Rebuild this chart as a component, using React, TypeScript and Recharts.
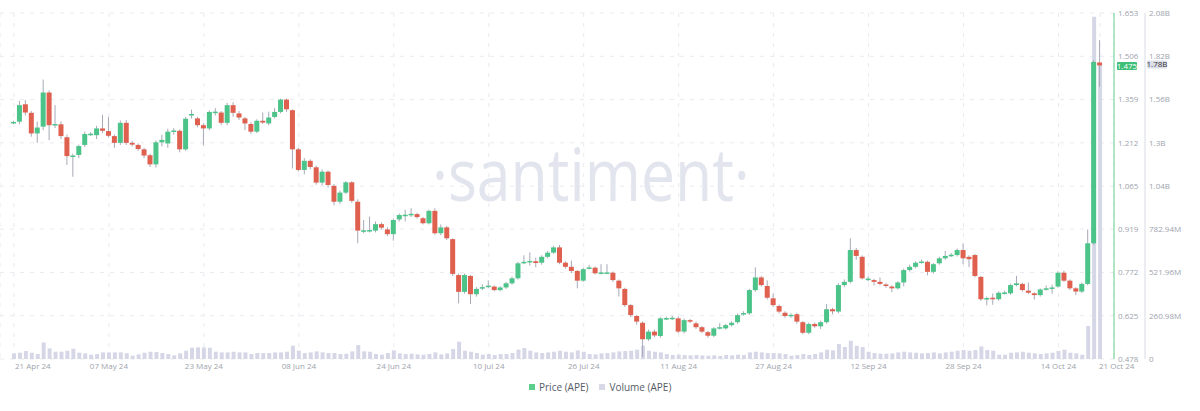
import React from "react";
import {
  ComposedChart,
  Bar,
  XAxis,
  YAxis,
  CartesianGrid,
  ReferenceLine,
} from "recharts";

// APE daily candles, 21 Apr 24 .. 21 Oct 24
const START = { year: 2024, month: 3, day: 21 };

const OPEN = [
  1.280, 1.284, 1.343, 1.314, 1.244, 1.267, 1.383, 1.274, 1.275, 1.231,
  1.167, 1.171, 1.205, 1.240, 1.238, 1.261, 1.252, 1.235, 1.212, 1.280,
  1.212, 1.205, 1.190, 1.170, 1.139, 1.214, 1.210, 1.251, 1.253, 1.190,
  1.305, 1.295, 1.272, 1.261, 1.316, 1.315, 1.280, 1.340, 1.312, 1.295,
  1.276, 1.250, 1.287, 1.278, 1.300, 1.317, 1.359, 1.323, 1.190, 1.120,
  1.151, 1.129, 1.077, 1.114, 1.066, 1.012, 1.043, 1.078, 1.012, 0.912,
  0.913, 0.914, 0.936, 0.918, 0.902, 0.952, 0.966, 0.969, 0.970, 0.956,
  0.939, 0.981, 0.905, 0.925, 0.885, 0.763, 0.706, 0.760, 0.698, 0.720,
  0.725, 0.724, 0.712, 0.721, 0.735, 0.752, 0.806, 0.809, 0.810, 0.805,
  0.825, 0.839, 0.857, 0.805, 0.791, 0.777, 0.744, 0.787, 0.788, 0.770,
  0.771, 0.771, 0.744, 0.716, 0.661, 0.624, 0.601, 0.545, 0.571, 0.556,
  0.615, 0.616, 0.616, 0.571, 0.610, 0.599, 0.586, 0.569, 0.557, 0.584,
  0.582, 0.593, 0.603, 0.632, 0.633, 0.712, 0.755, 0.726, 0.684, 0.658,
  0.635, 0.624, 0.630, 0.603, 0.567, 0.597, 0.589, 0.603, 0.647, 0.639,
  0.729, 0.740, 0.848, 0.825, 0.749, 0.746, 0.740, 0.731, 0.724, 0.718,
  0.738, 0.780, 0.791, 0.807, 0.808, 0.774, 0.803, 0.820, 0.830, 0.831,
  0.848, 0.825, 0.831, 0.757, 0.683, 0.686, 0.681, 0.702, 0.701, 0.729,
  0.733, 0.710, 0.701, 0.695, 0.716, 0.719, 0.724, 0.771, 0.744, 0.718,
  0.707, 0.733, 0.871, 1.485,
];

const CLOSE = [
  1.283, 1.340, 1.315, 1.244, 1.264, 1.383, 1.272, 1.276, 1.235, 1.167,
  1.169, 1.201, 1.242, 1.243, 1.261, 1.253, 1.236, 1.212, 1.280, 1.212,
  1.206, 1.191, 1.169, 1.139, 1.214, 1.222, 1.250, 1.254, 1.190, 1.294,
  1.310, 1.272, 1.261, 1.317, 1.318, 1.280, 1.340, 1.314, 1.298, 1.278,
  1.250, 1.287, 1.281, 1.298, 1.317, 1.359, 1.326, 1.190, 1.120, 1.151,
  1.130, 1.077, 1.114, 1.069, 1.012, 1.043, 1.078, 1.015, 0.914, 0.915,
  0.916, 0.936, 0.924, 0.902, 0.950, 0.967, 0.968, 0.971, 0.960, 0.939,
  0.981, 0.905, 0.925, 0.888, 0.767, 0.706, 0.763, 0.698, 0.716, 0.722,
  0.727, 0.712, 0.721, 0.735, 0.752, 0.803, 0.808, 0.811, 0.804, 0.825,
  0.839, 0.857, 0.805, 0.791, 0.777, 0.744, 0.783, 0.789, 0.769, 0.772,
  0.772, 0.746, 0.718, 0.661, 0.627, 0.605, 0.545, 0.571, 0.558, 0.616,
  0.617, 0.618, 0.571, 0.610, 0.605, 0.586, 0.571, 0.557, 0.582, 0.586,
  0.593, 0.601, 0.627, 0.634, 0.712, 0.755, 0.729, 0.686, 0.661, 0.639,
  0.624, 0.628, 0.605, 0.567, 0.597, 0.589, 0.603, 0.647, 0.640, 0.729,
  0.740, 0.848, 0.828, 0.752, 0.751, 0.740, 0.733, 0.726, 0.718, 0.738,
  0.780, 0.791, 0.805, 0.809, 0.774, 0.800, 0.820, 0.828, 0.832, 0.848,
  0.820, 0.817, 0.760, 0.681, 0.685, 0.681, 0.703, 0.704, 0.729, 0.735,
  0.712, 0.703, 0.695, 0.714, 0.718, 0.721, 0.771, 0.744, 0.718, 0.707,
  0.733, 0.871, 1.487, 1.475,
];

const HIGH = [
  1.287, 1.355, 1.357, 1.320, 1.284, 1.427, 1.390, 1.340, 1.285, 1.240,
  1.175, 1.206, 1.250, 1.248, 1.270, 1.307, 1.300, 1.240, 1.288, 1.290,
  1.218, 1.210, 1.195, 1.175, 1.220, 1.240, 1.260, 1.262, 1.258, 1.300,
  1.325, 1.300, 1.278, 1.322, 1.330, 1.320, 1.348, 1.350, 1.320, 1.300,
  1.282, 1.292, 1.315, 1.318, 1.330, 1.362, 1.362, 1.326, 1.195, 1.160,
  1.156, 1.135, 1.122, 1.118, 1.072, 1.050, 1.082, 1.082, 1.020, 0.950,
  0.962, 0.945, 0.942, 0.925, 0.955, 0.972, 0.985, 0.990, 0.975, 0.960,
  0.985, 0.990, 0.935, 0.930, 0.888, 0.768, 0.768, 0.764, 0.722, 0.732,
  0.745, 0.728, 0.725, 0.740, 0.758, 0.808, 0.830, 0.840, 0.822, 0.830,
  0.845, 0.862, 0.865, 0.810, 0.812, 0.780, 0.788, 0.798, 0.792, 0.800,
  0.800, 0.775, 0.748, 0.720, 0.665, 0.628, 0.606, 0.578, 0.578, 0.620,
  0.622, 0.624, 0.622, 0.615, 0.614, 0.605, 0.590, 0.573, 0.586, 0.600,
  0.597, 0.606, 0.632, 0.640, 0.716, 0.789, 0.760, 0.745, 0.700, 0.663,
  0.640, 0.633, 0.635, 0.607, 0.602, 0.602, 0.608, 0.665, 0.652, 0.735,
  0.748, 0.888, 0.855, 0.830, 0.758, 0.750, 0.755, 0.736, 0.728, 0.742,
  0.785, 0.798, 0.810, 0.815, 0.812, 0.804, 0.825, 0.845, 0.838, 0.853,
  0.870, 0.830, 0.835, 0.760, 0.690, 0.700, 0.708, 0.710, 0.734, 0.760,
  0.737, 0.738, 0.705, 0.718, 0.728, 0.730, 0.776, 0.778, 0.748, 0.722,
  0.738, 0.918, 1.493, 1.561,
];

const LOW = [
  1.276, 1.275, 1.305, 1.233, 1.212, 1.255, 1.221, 1.262, 1.225, 1.137,
  1.097, 1.160, 1.198, 1.236, 1.225, 1.245, 1.230, 1.195, 1.205, 1.205,
  1.200, 1.185, 1.160, 1.130, 1.128, 1.200, 1.195, 1.240, 1.180, 1.185,
  1.295, 1.265, 1.204, 1.255, 1.305, 1.272, 1.272, 1.300, 1.290, 1.255,
  1.243, 1.245, 1.276, 1.272, 1.295, 1.312, 1.318, 1.125, 1.115, 1.105,
  1.122, 1.070, 1.068, 1.060, 1.000, 1.005, 1.038, 1.008, 0.871, 0.905,
  0.908, 0.908, 0.918, 0.895, 0.880, 0.945, 0.945, 0.960, 0.955, 0.935,
  0.935, 0.900, 0.898, 0.882, 0.760, 0.667, 0.700, 0.665, 0.690, 0.712,
  0.718, 0.708, 0.708, 0.716, 0.730, 0.748, 0.800, 0.795, 0.790, 0.798,
  0.820, 0.835, 0.800, 0.785, 0.770, 0.718, 0.740, 0.782, 0.765, 0.765,
  0.766, 0.740, 0.690, 0.655, 0.620, 0.595, 0.485, 0.540, 0.552, 0.550,
  0.610, 0.610, 0.566, 0.565, 0.600, 0.580, 0.566, 0.550, 0.552, 0.578,
  0.578, 0.588, 0.598, 0.626, 0.628, 0.706, 0.724, 0.680, 0.655, 0.633,
  0.618, 0.618, 0.598, 0.562, 0.562, 0.584, 0.580, 0.598, 0.630, 0.633,
  0.722, 0.735, 0.815, 0.748, 0.742, 0.728, 0.728, 0.720, 0.705, 0.714,
  0.725, 0.775, 0.786, 0.802, 0.762, 0.768, 0.798, 0.815, 0.824, 0.826,
  0.800, 0.790, 0.755, 0.675, 0.660, 0.662, 0.676, 0.697, 0.696, 0.725,
  0.707, 0.698, 0.680, 0.690, 0.710, 0.700, 0.720, 0.740, 0.712, 0.695,
  0.702, 0.728, 0.866, 1.402,
];

// volume in millions of APE
const VOLUME_M = [
  34, 38, 48, 38, 30, 100, 64, 44, 44, 50,
  62, 38, 34, 26, 30, 40, 40, 40, 40, 34,
  20, 28, 38, 44, 42, 36, 30, 22, 34, 50,
  68, 70, 70, 68, 44, 40, 40, 44, 40, 40,
  30, 36, 36, 36, 40, 40, 44, 80, 50, 36,
  40, 46, 40, 36, 36, 30, 32, 46, 84, 46,
  44, 30, 26, 36, 52, 34, 30, 32, 28, 26,
  30, 40, 28, 34, 60, 104, 50, 44, 36, 26,
  30, 24, 30, 30, 36, 56, 66, 50, 40, 36,
  40, 44, 50, 44, 40, 52, 44, 30, 28, 34,
  36, 40, 46, 48, 50, 56, 80, 50, 44, 40,
  30, 24, 26, 24, 22, 24, 22, 20, 22, 18,
  24, 22, 26, 24, 40, 44, 40, 36, 36, 34,
  30, 20, 24, 30, 24, 30, 40, 56, 52, 90,
  72, 110, 80, 72, 44, 36, 32, 32, 34, 40,
  44, 40, 38, 34, 36, 40, 34, 40, 44, 50,
  54, 50, 54, 76, 54, 50, 26, 26, 38, 40,
  44, 38, 34, 30, 34, 38, 48, 56, 38, 34,
  26, 199, 2065, 1780,
];

const X_TICKS = [
  "21 Apr 24", "07 May 24", "23 May 24", "08 Jun 24", "24 Jun 24", "10 Jul 24",
  "26 Jul 24", "11 Aug 24", "27 Aug 24", "12 Sep 24", "28 Sep 24", "14 Oct 24",
  "21 Oct 24",
];
const PRICE_TICKS = [0.478, 0.625, 0.772, 0.919, 1.065, 1.212, 1.359, 1.506, 1.653];
const VOLUME_TICKS = [0, 260.98, 521.96, 782.94, 1043.92, 1304.9, 1565.88, 1826.86, 2087.84];
const VOLUME_TICK_LABELS = ["0", "260.98M", "521.96M", "782.94M", "1.04B", "1.3B", "1.56B", "1.82B", "2.08B"];

const LAST_PRICE = 1.475;
const LAST_PRICE_LABEL = "1.475";
const LAST_VOLUME_M = 1780;
const LAST_VOLUME_LABEL = "1.78B";

const GREEN = "#4cc489";
const RED = "#e0604f";
const WICK = "#a7a9b8";
const VOL_FILL = "#d5d7e7";
const AXIS_TEXT = "#9ea3ad";
const GRID = "#e9eaf0";

const MONTHS = ["Jan", "Feb", "Mar", "Apr", "May", "Jun", "Jul", "Aug", "Sep", "Oct", "Nov", "Dec"];

function dayLabel(i: number) {
  const d = new Date(Date.UTC(START.year, START.month, START.day + i));
  const dd = String(d.getUTCDate()).padStart(2, "0");
  return `${dd} ${MONTHS[d.getUTCMonth()]} ${String(d.getUTCFullYear()).slice(2)}`;
}

const data = CLOSE.map((close, i) => ({
  date: dayLabel(i),
  open: OPEN[i],
  close,
  high: HIGH[i],
  low: LOW[i],
  range: [LOW[i], HIGH[i]],
  volume: VOLUME_M[i],
}));

function Candle(props: any) {
  const { x, y, width, height, payload } = props;
  if (!payload || height == null) return null;
  const { open, close, high, low } = payload;
  const top = Math.min(y, y + height);
  const span = Math.abs(height);
  const toY = (v: number) => top + ((high - v) / (high - low)) * span;
  const yo = toY(open);
  const yc = toY(close);
  const cx = x + width / 2;
  return (
    <g>
      <line x1={cx} x2={cx} y1={top} y2={top + span} stroke={WICK} strokeWidth={1} />
      <rect
        x={x}
        y={Math.min(yo, yc)}
        width={width}
        height={Math.max(1.5, Math.abs(yc - yo))}
        fill={close >= open ? GREEN : RED}
      />
    </g>
  );
}

function DateTick({ x, y, payload }: any) {
  const v = payload.value;
  const first = v === X_TICKS[0];
  const last = v === X_TICKS[X_TICKS.length - 1];
  return (
    <text
      x={first ? x + 1 : last ? x - 1 : x}
      y={y}
      dy="0.71em"
      textAnchor={first || last ? "start" : "middle"}
      fontSize={8}
      fill={AXIS_TEXT}
    >
      {v}
    </text>
  );
}

function tag(text: string, fill: string, color: string, shift: number) {
  return (props: any) => {
    const vb = props.viewBox || {};
    const left = vb.x + vb.width + shift;
    return (
      <g>
        <rect x={left} y={vb.y - 3.5} width={20} height={8} rx={1} fill={fill} />
        <text x={left + 10} y={vb.y + 0.5} dy="0.35em" textAnchor="middle" fontSize={8} fill={color}>
          {text}
        </text>
      </g>
    );
  };
}

export default function App() {
  return (
    <div
      style={{
        position: "absolute",
        left: 0,
        top: 0,
        width: 1200,
        height: 411,
        background: "#fff",
        fontFamily: "'Open Sans', sans-serif",
        overflow: "hidden",
      }}
    >
      <div
        style={{
          position: "absolute",
          left: 432,
          top: 136,
          fontSize: 74,
          fontWeight: 400,
          color: "#e3e5ee",
          lineHeight: "74px",
          whiteSpace: "nowrap",
          transform: "scaleX(0.82)",
          transformOrigin: "left top",
        }}
      >
        ·santiment·
      </div>
      <div style={{ position: "absolute", left: 0, top: 0 }}>
        <ComposedChart
          width={1200}
          height={411}
          data={data}
          margin={{ top: 13, right: 0, bottom: 32, left: 0 }}
        >
          <CartesianGrid
            xAxisId="p"
            yAxisId="price"
            stroke={GRID}
            strokeDasharray="4 6"
          />
          <XAxis
            xAxisId="p"
            dataKey="date"
            ticks={X_TICKS}
            interval={0}
            tick={<DateTick />}
            tickLine={false}
            axisLine={false}
            tickSize={0}
            tickMargin={4}
            height={20}
            padding={{ left: 11, right: 11 }}
          />
          <XAxis xAxisId="v" dataKey="date" hide padding={{ left: 11, right: 11 }} />
          <YAxis
            yAxisId="price"
            orientation="right"
            domain={[0.478, 1.653]}
            ticks={PRICE_TICKS}
            allowDataOverflow
            width={31}
            tickSize={0}
            tickMargin={4}
            tickLine={false}
            axisLine={{ stroke: "#62d28f" }}
            tick={{ fontSize: 8, fill: AXIS_TEXT }}
            tickFormatter={(v: number) => v.toFixed(3)}
          />
          <YAxis
            yAxisId="vol"
            orientation="right"
            domain={[0, 2087.84]}
            ticks={VOLUME_TICKS}
            allowDataOverflow
            width={55}
            tickSize={0}
            tickMargin={4}
            tickLine={false}
            axisLine={{ stroke: "#d9dbe4" }}
            tick={{ fontSize: 8, fill: AXIS_TEXT }}
            tickFormatter={(v: number) => VOLUME_TICK_LABELS[VOLUME_TICKS.indexOf(v)] ?? ""}
          />
          <Bar
            xAxisId="v"
            yAxisId="vol"
            dataKey="volume"
            fill={VOL_FILL}
            barSize={4}
            isAnimationActive={false}
          />
          <Bar
            xAxisId="p"
            yAxisId="price"
            dataKey="range"
            barSize={5}
            shape={<Candle />}
            isAnimationActive={false}
          />
          <ReferenceLine
            xAxisId="p"
            yAxisId="price"
            y={LAST_PRICE}
            stroke="none"
            label={tag(LAST_PRICE_LABEL, "#3fbf78", "#fff", 3)}
          />
          <ReferenceLine
            xAxisId="p"
            yAxisId="vol"
            y={LAST_VOLUME_M}
            stroke="none"
            label={tag(LAST_VOLUME_LABEL, "#dcdeea", "#333", 33)}
          />
        </ComposedChart>
      </div>
      <div
        style={{
          position: "absolute",
          left: 529,
          top: 380,
          display: "flex",
          alignItems: "center",
          fontSize: 10,
          color: "#555b66",
        }}
      >
        <span style={{ width: 6, height: 6, background: "#5ccf8c", marginRight: 4 }} />
        <span>Price (APE)</span>
        <span style={{ width: 6, height: 6, background: "#d8d9e6", marginLeft: 11, marginRight: 4 }} />
        <span>Volume (APE)</span>
      </div>
    </div>
  );
}
